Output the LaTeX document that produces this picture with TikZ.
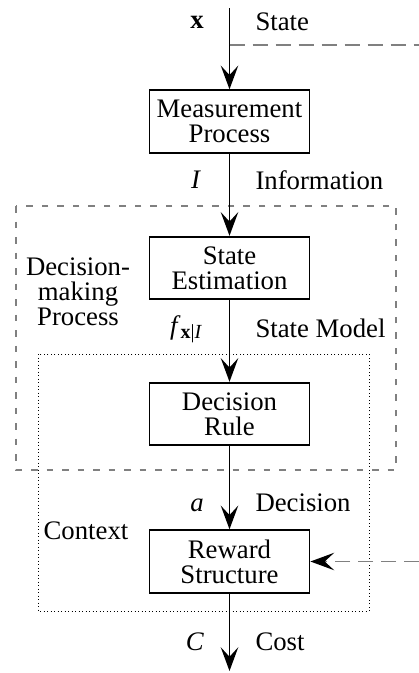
\documentclass[tikz,border=0pt]{standalone}
\usepackage{fontspec}
\setmainfont{Liberation Serif}
\usetikzlibrary{arrows.meta}
\tikzset{
  block/.style={draw,line width=0.75pt,minimum width=64pt,minimum height=25pt,align=center,inner sep=1pt},
  tip/.style={-{Stealth[length=9.5pt,width=7pt,inset=3.8pt,color=black]}},
  flow/.style={line width=0.75pt,tip},
  feed/.style={gray,line width=0.5pt,dash pattern=on 6pt off 3.2pt},
  lab/.style={inner sep=0pt,align=center}
}
\begin{document}
\begin{tikzpicture}[x=0.4pt,y=-0.4pt,font=\fontsize{10.7}{10}\selectfont]
\pgfmathsetmacro{\mx}{229.5}   %main line
\pgfmathsetmacro{\lx}{255}     %left edge of the names
\useasboundingbox (0,0) rectangle (419,673);
%regions
\draw[gray,line width=0.5pt,dash pattern=on 2.6pt off 3.6pt] (16,206) rectangle (396,470);
\draw[line width=0.4pt,dash pattern=on 0.4pt off 1pt] (38,354) rectangle (369,611);
%blocks
\node[block] (meas) at (\mx,121.5) {Measurement\\Process};
\node[block] (est) at (\mx,268) {State\\Estimation};
\node[block] (rule) at (\mx,414) {Decision\\Rule};
\node[block] (reward) at (\mx,561.5) {Reward\\Structure};
\coordinate (in) at (\mx,8);
\coordinate (out) at (\mx,671);
\coordinate (tap) at (\mx,45);
\coordinate (tapR) at (419,45);
\coordinate (fbR) at (419,561.5);
%arrows
\draw[flow] (in) -- (meas);
\draw[flow] (meas) -- (est);
\draw[flow] (est) -- (rule);
\draw[flow] (rule) -- (reward);
\draw[flow] (reward) -- (out);
\draw[feed] (tap) -- (tapR);
\draw[feed,tip] (fbR) -- (reward);
%labels
\node[lab] (xlab) at (197,22) {\textbf{x}};
\node[lab,anchor=west] (statelab) at (\lx,22) {State};
\node[lab] (ilab) at (196,180) {\textit{I}};
\node[lab,anchor=west] (infolab) at (\lx,180) {Information};
\node[lab] (dmplab) at (78,292) {Decision-\\making\\Process};
\node[lab] (flab) at (186,329) {\textit{f}\raisebox{-0.35ex}{\fontsize{8}{8}\selectfont\textbf{x}|\textit{I}}};
\node[lab,anchor=west] (modellab) at (\lx,328) {State Model};
\node[lab] (alab) at (197,505) {\textit{a}};
\node[lab,anchor=west] (declab) at (\lx,503) {Decision};
\node[lab] (ctxlab) at (86,531) {Context};
\node[lab] (clab) at (195,642) {\textit{C}};
\node[lab,anchor=west] (costlab) at (\lx,642) {Cost};
\end{tikzpicture}
\end{document}
